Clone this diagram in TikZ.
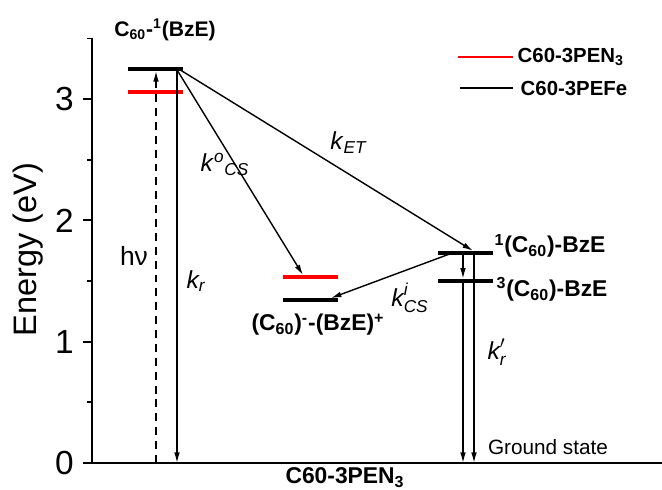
\documentclass[tikz,border=0pt]{standalone}
\usepackage{amsmath}
\usepackage{fontspec}
\setmainfont{Liberation Sans}
\usetikzlibrary{arrows.meta,positioning}

\begin{document}
\begin{tikzpicture}[
  x=0.02cm,y=2.426cm,
  lvl/.style={fill=#1, inner sep=0pt, minimum width=1.1cm, minimum height=2.2pt},
  lvl/.default=black,
  arr/.style={-{Latex[length=6pt,width=3.2pt]}, line width=0.8pt},
  lbl/.style={font=\fontsize{13}{15}\selectfont\bfseries, inner sep=0pt},
  rate/.style={font=\fontsize{14}{16}\selectfont, inner sep=0pt},
  key/.style={font=\fontsize{11.6}{13}\selectfont\bfseries, inner sep=0pt, anchor=west}
]
\useasboundingbox (0,-0.2226) rectangle (662,3.817);
% axes
\draw[line width=1.2pt] (92,3.5) -- (92,0) -- (662,0);
\foreach \e in {0,1,2,3} {
  \draw[line width=1pt] (83,\e) -- (92,\e);
  \node[anchor=east, inner sep=0pt, font=\fontsize{19}{21}\selectfont] (tick\e) at (74,\e) {\e};
}
\foreach \e in {0.5,1.5,2.5,3.5} \draw[line width=1pt] (87,\e) -- (92,\e);
\node[rotate=90, font=\fontsize{18.5}{20}\selectfont] (ylab) at (28,1.76) {Energy (eV)};
\node[lbl] (xlab) at (345,-0.124) {C60-3PEN\textsubscript{3}};

% levels
\node[lvl] (ex) at (155.5,3.25) {};
\node[lvl=red] (exr) at (155.5,3.06) {};
\node[lvl=red] (csr) at (310,1.53) {};
\node[lvl] (cs) at (310,1.34) {};
\node[lvl] (t1) at (465,1.73) {};
\node[lvl] (t3) at (465,1.50) {};
\coordinate (g0) at (156,0);
\coordinate (g1) at (177,0);
\coordinate (g2) at (463,0);
\coordinate (g3) at (474,0);

% transitions
\draw[arr, dash pattern=on 4.5pt off 3.4pt] (g0) -- (g0 |- ex.south);
\draw[arr] (g1 |- ex) -- (g1);
\draw[arr] ([xshift=-0.14cm]ex.east) -- ([xshift=-0.14cm]csr.north);
\draw[arr] ([xshift=-0.1cm]ex.east) -- ([xshift=0.16cm]t1.north);
\draw[arr] ([xshift=-0.26cm]t1.center) -- ([xshift=-0.14cm]cs.north east);
\draw[arr] (t1.south -| g2) -- (t3.north -| g2);
\draw[arr] (t3 -| g2) -- (g2);
\draw[arr] (t1 -| g3) -- (g3);

% labels
\node[lbl, font=\fontsize{12}{14}\selectfont\bfseries] (exlab) at (165,3.57) {C\textsubscript{60}-\textsuperscript{1}(BzE)};
\node[lbl] (cslab) at (318,1.14) {(C\textsubscript{60})\textsuperscript{-}-(BzE)\textsuperscript{+}};
\node[lbl] (t1lab) at (550,1.79) {\textsuperscript{1}(C\textsubscript{60})-BzE};
\node[lbl] (t3lab) at (552,1.43) {\textsuperscript{3}(C\textsubscript{60})-BzE};
\node[font=\fontsize{11.8}{13}\selectfont, inner sep=0pt] (gs) at (548,0.13) {Ground state};
\node[rate] (ket) at (349,2.64) {\textit{k}\textsubscript{\textit{ET}}};
\node[rate] (kcso) at (225,2.46) {\textit{k}\textsuperscript{\textit{o}}\textsubscript{\textit{CS}}};
\node[rate] (kcsi) at (410,1.36) {$\textit{k}^{\textit{i}}_{\textit{CS}}$};
\node[rate] (kr) at (196,1.50) {$\textit{k}_{\textit{r}}$};
\node[rate] (krp) at (497,0.915) {$\textit{k}^{\prime}_{\textit{r}}$};
\node[font=\fontsize{15}{17}\selectfont, inner sep=0pt] (hv) at (134,1.71) {hν};

% legend
\node[lvl=red, minimum width=1.1cm, minimum height=1pt] (keyr) at (485.5,3.35) {};
\node[key, right=0.08cm of keyr] (keyrlab) {C60-3PEN\textsubscript{3}};
\node[lvl, minimum width=1.06cm, minimum height=1pt] (keyb) at (486.5,3.09) {};
\node[key, right=0.14cm of keyb] (keyblab) {C60-3PEFe};
\end{tikzpicture}
\end{document}
